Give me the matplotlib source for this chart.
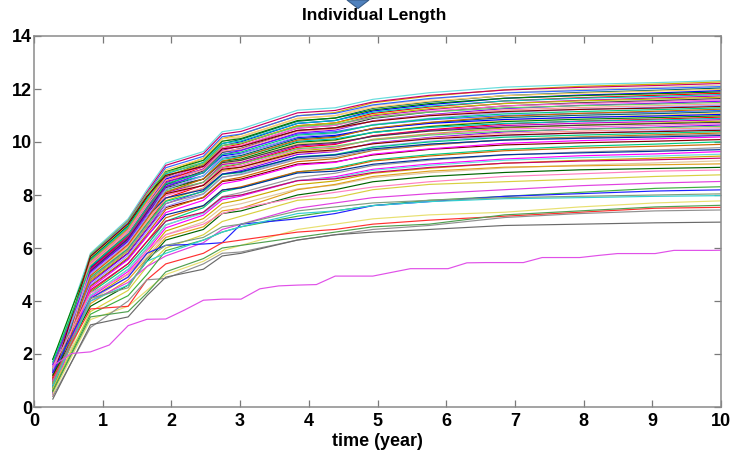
import matplotlib
matplotlib.use('Agg')
import matplotlib.pyplot as plt
from matplotlib.patches import Polygon

# ---------------- data ----------------
title_text = "Individual Length"
xlabel_text = "time (year)"
x_ticks = [0, 1, 2, 3, 4, 5, 6, 7, 8, 9, 10]
y_ticks = [0, 2, 4, 6, 8, 10, 12, 14]

# sampling times (years) used for the individual curves
t_grid = [0.274, 0.822, 1.370, 1.644, 1.918, 2.466, 2.740, 3.014,
          3.836, 4.384, 4.932, 5.753, 6.849, 7.945, 9.041, 10.137]

upper_band = [
    [1.6, 5.80, 7.10, 8.20, 9.20, 9.64, 10.39, 10.49, 11.20, 11.29, 11.61, 11.86, 12.07, 12.17, 12.24, 12.33],
    [1.2, 5.40, 6.69, 7.74, 8.84, 9.39, 10.13, 10.29, 10.99, 11.11, 11.48, 11.73, 11.97, 12.10, 12.18, 12.28],
    [0.9, 5.74, 7.03, 8.11, 9.12, 9.56, 10.30, 10.40, 11.10, 11.19, 11.51, 11.76, 11.96, 12.06, 12.13, 12.22],
    [1.7, 5.35, 6.63, 7.66, 8.76, 9.30, 10.03, 10.19, 10.88, 11.00, 11.37, 11.61, 11.86, 11.98, 12.06, 12.16],
    [0.6, 5.69, 6.96, 8.03, 9.03, 9.46, 10.20, 10.30, 10.99, 11.08, 11.40, 11.64, 11.85, 11.94, 12.02, 12.10],
    [1.4, 5.30, 6.57, 7.59, 8.68, 9.22, 9.94, 10.10, 10.78, 10.91, 11.27, 11.51, 11.75, 11.87, 11.95, 12.05],
    [1.1, 5.64, 6.90, 7.97, 8.95, 9.38, 10.12, 10.21, 10.90, 10.99, 11.30, 11.54, 11.75, 11.84, 11.92, 12.00],
    [0.5, 5.26, 6.51, 7.53, 8.60, 9.14, 9.86, 10.01, 10.70, 10.81, 11.17, 11.41, 11.65, 11.77, 11.85, 11.95],
    [1.8, 5.59, 6.84, 7.90, 8.88, 9.31, 10.03, 10.13, 10.81, 10.90, 11.21, 11.45, 11.65, 11.75, 11.82, 11.90],
    [1.0, 5.21, 6.46, 7.47, 8.53, 9.07, 9.78, 9.93, 10.61, 10.72, 11.08, 11.32, 11.55, 11.67, 11.76, 11.85],
    [0.7, 5.55, 6.79, 7.84, 8.80, 9.23, 9.95, 10.04, 10.71, 10.81, 11.12, 11.35, 11.55, 11.65, 11.72, 11.80],
    [1.3, 5.17, 6.40, 7.40, 8.46, 8.99, 9.69, 9.85, 10.52, 10.63, 10.99, 11.22, 11.46, 11.57, 11.66, 11.75],
    [1.5, 5.50, 6.73, 7.77, 8.73, 9.15, 9.86, 9.96, 10.62, 10.72, 11.02, 11.26, 11.45, 11.55, 11.62, 11.70],
    [0.8, 5.13, 6.35, 7.34, 8.39, 8.91, 9.61, 9.76, 10.43, 10.54, 10.89, 11.13, 11.36, 11.48, 11.56, 11.65],
    [1.2, 5.45, 6.67, 7.70, 8.65, 9.07, 9.78, 9.87, 10.53, 10.63, 10.93, 11.16, 11.36, 11.45, 11.52, 11.60],
    [1.6, 5.08, 6.29, 7.28, 8.32, 8.84, 9.53, 9.68, 10.34, 10.45, 10.80, 11.03, 11.26, 11.38, 11.46, 11.55],
    [0.9, 5.75, 7.02, 8.05, 8.86, 9.20, 9.87, 9.96, 10.58, 10.67, 10.93, 11.13, 11.29, 11.37, 11.43, 11.50],
    [0.4, 5.38, 6.58, 7.60, 8.54, 8.95, 9.65, 9.74, 10.40, 10.49, 10.79, 11.01, 11.21, 11.30, 11.37, 11.45],
    [1.4, 5.02, 6.21, 7.18, 8.21, 8.72, 9.41, 9.55, 10.20, 10.32, 10.66, 10.89, 11.12, 11.23, 11.31, 11.40],
    [1.1, 5.68, 6.92, 7.95, 8.74, 9.08, 9.74, 9.83, 10.44, 10.53, 10.78, 10.99, 11.15, 11.23, 11.28, 11.35],
    [1.7, 5.31, 6.50, 7.50, 8.43, 8.84, 9.53, 9.62, 10.26, 10.35, 10.64, 10.87, 11.06, 11.15, 11.22, 11.30],
    [0.6, 4.95, 6.13, 7.09, 8.10, 8.61, 9.28, 9.43, 10.07, 10.18, 10.52, 10.74, 10.97, 11.08, 11.16, 11.25],
]

lower_band = [
    [1.3, 5.60, 6.83, 7.84, 8.62, 8.96, 9.61, 9.70, 10.30, 10.39, 10.64, 10.84, 11.00, 11.08, 11.13, 11.20],
    [1.0, 5.24, 6.41, 7.40, 8.32, 8.72, 9.40, 9.49, 10.12, 10.21, 10.50, 10.73, 10.92, 11.01, 11.07, 11.15],
    [1.5, 4.88, 6.05, 6.99, 7.99, 8.49, 9.16, 9.30, 9.93, 10.05, 10.38, 10.60, 10.82, 10.93, 11.01, 11.10],
    [0.7, 5.53, 6.74, 7.74, 8.51, 8.84, 9.48, 9.57, 10.17, 10.25, 10.50, 10.70, 10.85, 10.93, 10.98, 11.05],
    [1.2, 5.17, 6.33, 7.30, 8.21, 8.60, 9.27, 9.36, 9.99, 10.08, 10.36, 10.58, 10.77, 10.86, 10.92, 11.00],
    [0.9, 4.82, 5.97, 6.90, 7.88, 8.38, 9.03, 9.18, 9.80, 9.91, 10.24, 10.46, 10.68, 10.79, 10.86, 10.95],
    [1.6, 5.45, 6.65, 7.63, 8.39, 8.72, 9.35, 9.44, 10.03, 10.12, 10.36, 10.55, 10.70, 10.78, 10.83, 10.90],
    [0.5, 5.10, 6.24, 7.20, 8.09, 8.48, 9.15, 9.23, 9.85, 9.94, 10.22, 10.44, 10.62, 10.71, 10.77, 10.85],
    [1.1, 4.75, 5.89, 6.80, 7.78, 8.26, 8.91, 9.05, 9.67, 9.77, 10.10, 10.31, 10.53, 10.64, 10.71, 10.80],
    [1.4, 5.38, 6.56, 7.53, 8.28, 8.60, 9.22, 9.31, 9.89, 9.98, 10.21, 10.41, 10.56, 10.63, 10.69, 10.75],
    [0.8, 5.03, 6.15, 7.10, 7.98, 8.37, 9.02, 9.11, 9.72, 9.80, 10.08, 10.29, 10.48, 10.56, 10.63, 10.70],
    [1.7, 4.69, 5.80, 6.71, 7.67, 8.15, 8.79, 8.92, 9.53, 9.64, 9.96, 10.17, 10.38, 10.49, 10.56, 10.65],
    [1.0, 5.30, 6.47, 7.42, 8.16, 8.48, 9.09, 9.18, 9.75, 9.84, 10.07, 10.26, 10.41, 10.48, 10.54, 10.60],
    [0.6, 4.96, 6.07, 7.01, 7.87, 8.25, 8.89, 8.98, 9.58, 9.66, 9.94, 10.15, 10.33, 10.41, 10.48, 10.55],
    [1.3, 4.62, 5.72, 6.62, 7.56, 8.03, 8.66, 8.80, 9.40, 9.50, 9.82, 10.03, 10.24, 10.34, 10.42, 10.50],
    [0.9, 5.23, 6.37, 7.32, 8.05, 8.36, 8.97, 9.05, 9.61, 9.70, 9.93, 10.12, 10.26, 10.34, 10.39, 10.45],
    [1.5, 4.89, 5.98, 6.91, 7.76, 8.13, 8.77, 8.85, 9.44, 9.53, 9.80, 10.00, 10.18, 10.26, 10.33, 10.40],
    [0.7, 4.55, 5.64, 6.52, 7.45, 7.92, 8.54, 8.67, 9.26, 9.37, 9.68, 9.88, 10.09, 10.19, 10.27, 10.35],
    [1.2, 4.84, 5.92, 6.84, 7.68, 8.05, 8.68, 8.77, 9.35, 9.43, 9.70, 9.91, 10.08, 10.17, 10.23, 10.30],
    [1.8, 5.13, 6.25, 7.18, 7.89, 8.20, 8.79, 8.88, 9.43, 9.51, 9.74, 9.92, 10.07, 10.14, 10.19, 10.25],
    [0.5, 4.49, 5.56, 6.43, 7.34, 7.80, 8.42, 8.55, 9.13, 9.23, 9.54, 9.74, 9.95, 10.05, 10.12, 10.20],
]

middle_lines = [
    [1.0, 4.75, 5.81, 6.71, 7.53, 7.90, 8.51, 8.60, 9.17, 9.25, 9.51, 9.72, 9.89, 9.97, 10.03, 10.10],
    [0.8, 4.31, 5.31, 6.11, 7.01, 7.52, 8.12, 8.27, 8.87, 9.02, 9.32, 9.52, 9.72, 9.84, 9.92, 10.02],
    [1.4, 4.36, 5.41, 6.25, 7.14, 7.59, 8.18, 8.31, 8.88, 8.98, 9.28, 9.47, 9.67, 9.77, 9.84, 9.92],
    [0.6, 4.21, 5.19, 5.98, 6.86, 7.35, 7.94, 8.09, 8.67, 8.82, 9.11, 9.31, 9.51, 9.62, 9.70, 9.80],
    [1.1, 4.57, 5.59, 6.45, 7.25, 7.60, 8.19, 8.27, 8.83, 8.90, 9.16, 9.35, 9.52, 9.59, 9.65, 9.72],
    [0.9, 4.15, 5.11, 5.89, 6.76, 7.24, 7.82, 7.96, 8.54, 8.69, 8.97, 9.17, 9.36, 9.48, 9.55, 9.65],
    [1.3, 4.20, 5.20, 6.02, 6.88, 7.31, 7.88, 8.00, 8.55, 8.64, 8.93, 9.12, 9.31, 9.41, 9.47, 9.55],
    [0.7, 4.08, 5.02, 5.78, 6.64, 7.11, 7.68, 7.82, 8.39, 8.53, 8.82, 9.01, 9.20, 9.31, 9.39, 9.48],
    [1.5, 4.42, 5.41, 6.24, 7.01, 7.35, 7.92, 8.00, 8.54, 8.61, 8.85, 9.04, 9.20, 9.28, 9.33, 9.40],
    [0.5, 4.00, 4.93, 5.67, 6.51, 6.98, 7.53, 7.67, 8.23, 8.37, 8.65, 8.84, 9.02, 9.13, 9.21, 9.30],
]

low_lines = [
    [0.9, 3.9, 4.8, 5.6, 6.4, 6.8, 7.4, 7.5, 8.2, 8.4, 8.7, 8.9, 9.05, 9.1, 9.14, 9.18],
    [1.2, 3.8, 4.6, 5.5, 6.3, 6.7, 7.3, 7.4, 8.0, 8.2, 8.5, 8.7, 8.85, 8.95, 9.0, 9.05],
    [0.7, 3.6, 4.4, 5.3, 6.0, 6.5, 7.0, 7.2, 7.8, 7.9, 8.2, 8.4, 8.5, 8.6, 8.7, 8.77],
    [1.0, 4.0, 4.7, 5.3, 5.7, 6.2, 6.7, 6.9, 7.5, 7.7, 7.9, 8.05, 8.2, 8.35, 8.45, 8.52],
    [0.6, 3.5, 4.2, 5.0, 5.9, 6.3, 6.6, 6.8, 7.2, 7.4, 7.6, 7.8, 7.95, 8.1, 8.25, 8.32],
    [1.3, 4.1, 4.9, 5.8, 6.1, 6.15, 6.2, 6.9, 7.1, 7.3, 7.6, 7.75, 7.95, 8.05, 8.15, 8.20],
    [0.8, 4.0, 4.6, 5.5, 5.8, 6.3, 6.6, 6.8, 7.3, 7.4, 7.6, 7.75, 7.86, 7.9, 7.95, 7.98],
    [0.5, 3.3, 3.8, 4.4, 5.0, 5.5, 5.9, 6.1, 6.7, 6.9, 7.1, 7.25, 7.35, 7.55, 7.7, 7.79],
    [1.1, 3.7, 3.8, 4.8, 5.4, 5.8, 6.2, 6.3, 6.6, 6.7, 6.9, 7.05, 7.2, 7.35, 7.5, 7.54],
    [0.4, 3.0, 4.0, 4.8, 4.85, 5.4, 5.8, 5.85, 6.3, 6.5, 6.7, 6.85, 7.15, 7.3, 7.4, 7.44],
    [0.3, 3.1, 3.4, 4.2, 4.9, 5.2, 5.7, 5.8, 6.3, 6.5, 6.6, 6.7, 6.85, 6.9, 6.95, 6.98],
    [0.6, 3.4, 3.6, 4.3, 5.1, 5.6, 6.0, 6.1, 6.4, 6.6, 6.8, 6.9, 7.25, 7.4, 7.55, 7.62],
    [1.5, 4.3, 5.0, 5.9, 6.5, 6.9, 7.3, 7.5, 7.9, 8.1, 8.3, 8.5, 8.7, 8.8, 8.9, 8.95],
    [0.9, 4.1, 4.5, 5.6, 6.1, 6.4, 6.8, 6.9, 7.4, 7.55, 7.7, 7.8, 7.9, 7.95, 8.0, 8.05],
]
low_colors = ['#e0a020', '#006400', '#d8d040', '#e040e0', '#40b040', '#2020ff', '#30d0d0',
              '#e8e070', '#ff3030', '#909090', '#6a6a6a', '#50a050', '#ff80c0', '#80a080']

# slowest individual (sampled every 100 days)
t_slow = [0.274, 0.548, 0.822, 1.096, 1.370, 1.644, 1.918, 2.192, 2.466, 2.740,
          3.014, 3.288, 3.562, 3.836, 4.110, 4.384, 4.658, 4.932, 5.205, 5.479,
          5.753, 6.027, 6.301, 6.575, 6.849, 7.123, 7.397, 7.671, 7.945, 8.219,
          8.493, 8.767, 9.041, 9.315, 9.589, 9.863, 10.137]
slow_line = [1.55, 2.02, 2.08, 2.34, 3.07, 3.31, 3.32, 3.66, 4.03, 4.07,
             4.07, 4.46, 4.57, 4.60, 4.62, 4.94, 4.94, 4.94, 5.08, 5.22,
             5.22, 5.22, 5.44, 5.45, 5.45, 5.45, 5.64, 5.64, 5.64, 5.72,
             5.79, 5.79, 5.79, 5.91, 5.91, 5.91, 5.92]

band_colors = ['#0000ff', '#008000', '#ff0000', '#00bfbf', '#bf00bf', '#bfbf00', '#404040',
               '#ff66cc', '#7f00ff', '#66cc66', '#ff9999', '#9999ff', '#800000', '#00cc80',
               '#cc6600', '#999999', '#003399', '#ff00ff', '#66dddd', '#ccaa00', '#cc0066',
               '#e0c8a0', '#3366ff', '#006666', '#ffcc66']

# ---------------- figure ----------------
W, H = 740, 455
fig = plt.figure(figsize=(W / 100, H / 100), dpi=100)
ax = fig.add_axes([34 / W, 1 - 407 / H, (721 - 34) / W, (407 - 36) / H])

FONT = 'Liberation Sans'
lw = 0.85

ci = 12
for group in (middle_lines, lower_band, upper_band):
    for vals in group:
        ax.plot(t_grid, vals, color=band_colors[ci % len(band_colors)], lw=lw)
        ci += 1
for vals, c in zip(low_lines, low_colors):
    ax.plot(t_grid, vals, color=c, lw=lw)
ax.plot(t_slow, slow_line, color='#e050e8', lw=lw)

ax.set_xlim(0, 10)
ax.set_ylim(0, 14)
ax.set_xticks(x_ticks)
ax.set_yticks(y_ticks)
ax.set_xticklabels([str(v) for v in x_ticks], fontfamily=FONT, fontweight='bold', fontsize=13)
ax.set_yticklabels([str(v) for v in y_ticks], fontfamily=FONT, fontweight='bold', fontsize=13)
ax.tick_params(direction='in', length=5.2, width=0.9, color='#7a7a7a',
               top=True, right=True, labelcolor='black')
ax.tick_params(axis='x', pad=4)
ax.tick_params(axis='y', pad=1.5)
for s in ax.spines.values():
    s.set_color('#8a8a8a')
    s.set_linewidth(1.1)

fig.text(374 / W, 1 - 20 / H, title_text, ha='center', va='baseline',
         fontfamily=FONT, fontweight='bold', fontsize=12.5)
fig.text(377 / W, 1 - 446 / H, xlabel_text, ha='center', va='baseline',
         fontfamily=FONT, fontweight='bold', fontsize=13)

# blue pointer shape at the top edge
tri = Polygon([(347 / W, 1.0), (369 / W, 1.0), (358 / W, 1 - 8.5 / H)], closed=True,
              transform=fig.transFigure, facecolor='#4f81bd', edgecolor='#385d8a',
              lw=0.8, clip_on=False)
fig.patches.append(tri)

fig.savefig('out.png', dpi=100)
